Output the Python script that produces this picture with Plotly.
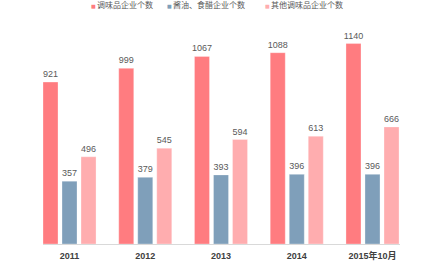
import plotly.graph_objects as go

categories = ["2011", "2012", "2013", "2014", "2015年10月"]
series_names = ["调味品企业个数", "酱油、食醋企业个数", "其他调味品企业个数"]
seasoning = [921, 999, 1067, 1088, 1140]
soy_vinegar = [357, 379, 393, 396, 396]
other = [496, 545, 594, 613, 666]
colors = ["#FF7C80", "#7F9FBA", "#FFADAF"]

L, R, T, B, W, H = 43, 40, 20, 20, 440, 264
PW, PH = W - L - R, H - T - B

def px(x):
    return (x - L) / PW

def py(y):
    return (H - B - y) / PH

fig = go.Figure()
for name, vals, c in zip(series_names, [seasoning, soy_vinegar, other], colors):
    fig.add_trace(go.Bar(
        x=categories, y=vals, name=name,
        marker=dict(color=c, line=dict(color="rgba(255,255,255,0.6)", width=0.5)),
        text=[str(v) for v in vals], textposition="outside",
        textfont=dict(size=9, color="#595959", family="Liberation Sans, Arial, sans-serif"),
        cliponaxis=False, showlegend=False,
    ))

# legend drawn as annotations (small square markers)
legend_x = [89, 165, 263]
anns = []
for name, c, lx in zip(series_names, colors, legend_x):
    anns.append(dict(x=px(lx), y=py(5.5), xref="paper", yref="paper", xanchor="left", yanchor="middle",
                     text="■", showarrow=False, font=dict(size=5, color=c, family="DejaVu Sans")))
    anns.append(dict(x=px(lx + 6), y=py(5), xref="paper", yref="paper", xanchor="left", yanchor="middle",
                     text=name, showarrow=False,
                     font=dict(size=8, color="#595959", family="Noto Sans CJK SC")))

fig.update_layout(
    width=W, height=H,
    margin=dict(l=L, r=R, t=T, b=B, autoexpand=False),
    paper_bgcolor="white", plot_bgcolor="white",
    barmode="group", bargap=0.247, bargroupgap=0.21,
    annotations=anns,
    xaxis=dict(range=[-0.35, 4.363], showgrid=False, showline=True, linecolor="#D9D9D9",
               linewidth=1, ticks="", ticklabelstandoff=3, automargin=False,
               tickfont=dict(size=9, color="#404040", family="Liberation Sans, Arial, Noto Sans CJK SC"),
               tickprefix="<b>", ticksuffix="</b>"),
    yaxis=dict(range=[0, 1274], visible=False, showgrid=False, automargin=False),
    font=dict(family="Liberation Sans, Noto Sans CJK SC"),
)
fig.update_traces(constraintext="none")
fig.write_html("out.html")
